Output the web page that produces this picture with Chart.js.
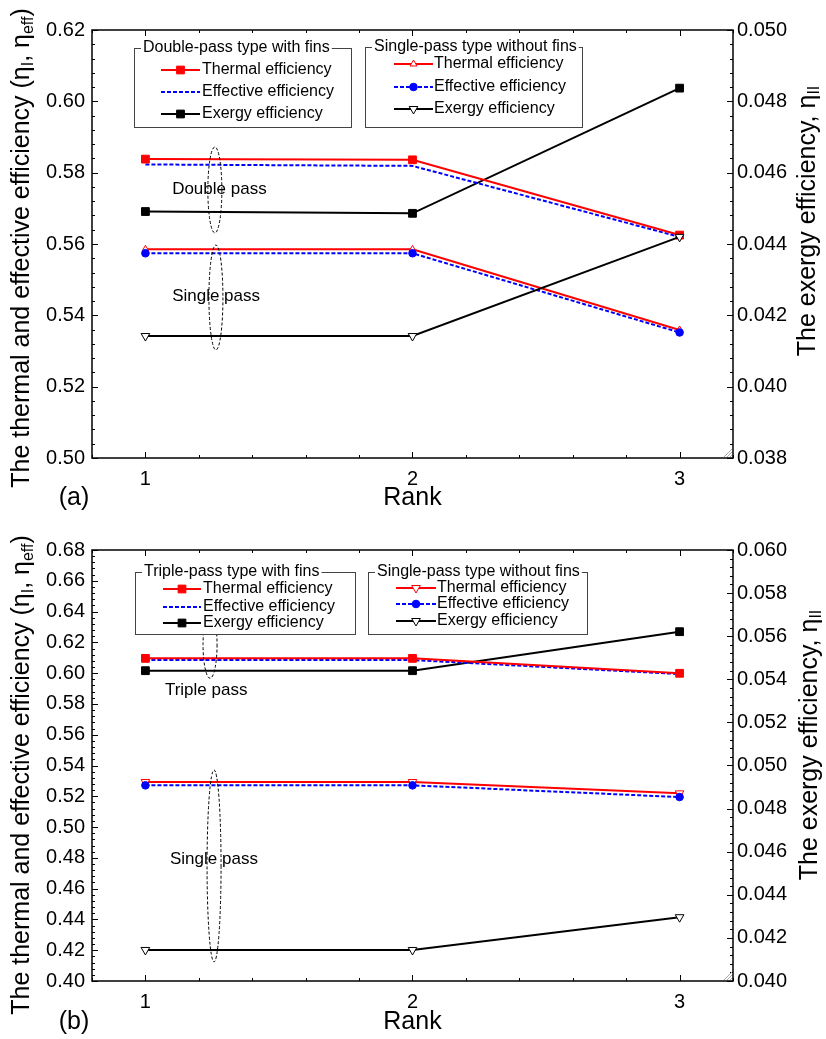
<!DOCTYPE html>
<html lang="en">
<head>
    <meta charset="UTF-8">
    <title>Thermal, effective and exergy efficiency vs rank</title>
    <script src="https://cdn.jsdelivr.net/npm/chart.js"></script>
    <style>
        body { margin: 0; background: #fff; }
        canvas { display: block; }
    </style>
</head>
<body>
    <canvas id="chartA" width="826" height="520"></canvas>
    <canvas id="chartB" width="826" height="519"></canvas>

<script>
const ranks = [1, 2, 3];

// (a) double-pass with fins / single-pass without fins
const doubleThermalA   = [0.5838, 0.5836, 0.5625];
const doubleEffectiveA = [0.5823, 0.5819, 0.5620];
const doubleExergyA    = [0.04491, 0.04486, 0.04837];
const singleThermalA   = [0.5585, 0.5585, 0.5359];
const singleEffectiveA = [0.5574, 0.5574, 0.5352];
const singleExergyA    = [0.04142, 0.04142, 0.04420];

// (b) triple-pass with fins / single-pass without fins
const tripleThermalB   = [0.6096, 0.6096, 0.5999];
const tripleEffectiveB = [0.6085, 0.6085, 0.5994];
const tripleExergyB    = [0.05440, 0.05440, 0.05621];
const singleThermalB   = [0.5293, 0.5293, 0.5219];
const singleEffectiveB = [0.5271, 0.5271, 0.5195];
const singleExergyB    = [0.04144, 0.04144, 0.04296];

const leftTicksA  = [0.50, 0.52, 0.54, 0.56, 0.58, 0.60, 0.62];
const rightTicksA = [0.038, 0.040, 0.042, 0.044, 0.046, 0.048, 0.050];
const leftTicksB  = [0.40, 0.42, 0.44, 0.46, 0.48, 0.50, 0.52, 0.54, 0.56, 0.58, 0.60, 0.62, 0.64, 0.66, 0.68];
const rightTicksB = [0.040, 0.042, 0.044, 0.046, 0.048, 0.050, 0.052, 0.054, 0.056, 0.058, 0.060];

const FONT = "'Liberation Sans', Arial, sans-serif";

// line / marker styles
const thermalSq   = { borderColor: '#ff0000', pointStyle: 'rect', pointRadius: 5.5, pointBackgroundColor: '#ff0000', pointBorderColor: '#ff0000' };
const effPlain    = { borderColor: '#0000ff', borderDash: [4, 2], pointRadius: 0 };
const exergySq    = { borderColor: '#000000', pointStyle: 'rect', pointRadius: 5.5, pointBackgroundColor: '#000000', pointBorderColor: '#000000' };
const thermalUp   = { borderColor: '#ff0000', pointStyle: 'triangle', pointRotation: 0, pointRadius: 4, pointBackgroundColor: '#ffffff', pointBorderColor: '#ff0000' };
const thermalDown = { borderColor: '#ff0000', pointStyle: 'triangle', pointRotation: 180, pointRadius: 5, pointBackgroundColor: '#ffffff', pointBorderColor: '#ff0000' };
const effDot      = { borderColor: '#0000ff', borderDash: [4, 2], pointStyle: 'circle', pointRadius: 3.8, pointBackgroundColor: '#0000ff', pointBorderColor: '#0000ff' };
const exergyDown  = { borderColor: '#000000', pointStyle: 'triangle', pointRotation: 180, pointRadius: 5, pointBackgroundColor: '#ffffff', pointBorderColor: '#000000' };

function series(label, values, axis, style, order) {
    return Object.assign({
        label: label,
        data: ranks.map((r, i) => ({ x: r, y: values[i] })),
        yAxisID: axis,
        borderWidth: 2,
        tension: 0,
        fill: false,
        pointBorderWidth: 1,
        order: order
    }, style);
}

function drawMarker(ctx, ds, x, y) {
    const r = ds.pointRadius;
    if (!r) return;
    ctx.save();
    ctx.setLineDash([]);
    ctx.lineWidth = 1;
    ctx.fillStyle = ds.pointBackgroundColor;
    ctx.strokeStyle = ds.pointBorderColor;
    ctx.beginPath();
    if (ds.pointStyle === 'rect') {
        const s = r * Math.SQRT1_2;
        ctx.rect(x - s, y - s, 2 * s, 2 * s);
    } else if (ds.pointStyle === 'circle') {
        ctx.arc(x, y, r, 0, Math.PI * 2);
    } else {
        let rad = (ds.pointRotation || 0) * Math.PI / 180;
        ctx.moveTo(x + Math.sin(rad) * r, y - Math.cos(rad) * r);
        rad += 2 * Math.PI / 3;
        ctx.lineTo(x + Math.sin(rad) * r, y - Math.cos(rad) * r);
        rad += 2 * Math.PI / 3;
        ctx.lineTo(x + Math.sin(rad) * r, y - Math.cos(rad) * r);
        ctx.closePath();
    }
    ctx.fill();
    ctx.stroke();
    ctx.restore();
}

// text with subscripts, rotated -90 deg, centred on (cx, cy)
function drawVerticalTitle(ctx, parts, cx, cy, size) {
    ctx.save();
    ctx.translate(cx, cy);
    ctx.rotate(-Math.PI / 2);
    ctx.fillStyle = '#000';
    ctx.textBaseline = 'middle';
    ctx.textAlign = 'left';
    let total = 0;
    parts.forEach(p => {
        ctx.font = (p.sub ? Math.round(size * 0.62) : size) + 'px ' + FONT;
        p.w = ctx.measureText(p.t).width;
        total += p.w;
    });
    let x = -total / 2;
    parts.forEach(p => {
        ctx.font = (p.sub ? Math.round(size * 0.62) : size) + 'px ' + FONT;
        ctx.fillText(p.t, x, p.sub ? size * 0.28 : 0);
        x += p.w;
    });
    ctx.restore();
}

const decorPlugin = {
    id: 'decor',
    afterDatasetsDraw(chart, args, opts) {
        const ctx = chart.ctx;
        const a = chart.chartArea;
        const sx = chart.scales.x, sy = chart.scales.y, sy2 = chart.scales.y2;
        ctx.save();

        // frame
        ctx.strokeStyle = '#000';
        ctx.lineWidth = 1.5;
        ctx.strokeRect(a.left, a.top, a.right - a.left, a.bottom - a.top);

        // inward ticks
        ctx.lineWidth = 1;
        ctx.beginPath();
        for (let i = 4; i <= 16; i++) {
            const v = i / 5;
            const px = Math.round(sx.getPixelForValue(v)) + 0.5;
            const len = (i % 5 === 0) ? 6 : 3;
            ctx.moveTo(px, a.bottom); ctx.lineTo(px, a.bottom - len);
            ctx.moveTo(px, a.top); ctx.lineTo(px, a.top + len);
        }
        const lMin = opts.leftTicks[0], lMax = opts.leftTicks[opts.leftTicks.length - 1];
        const nL = Math.round((lMax - lMin) / opts.leftMinor);
        for (let k = 0; k <= nL; k++) {
            const py = Math.round(sy.getPixelForValue(lMin + k * opts.leftMinor)) + 0.5;
            const len = (k % 5 === 0) ? 6 : 3;
            ctx.moveTo(a.left, py); ctx.lineTo(a.left + len, py);
        }
        const rMin = opts.rightTicks[0], rMax = opts.rightTicks[opts.rightTicks.length - 1];
        const nR = Math.round((rMax - rMin) / opts.rightMinor);
        for (let k = 0; k <= nR; k++) {
            const py = Math.round(sy2.getPixelForValue(rMin + k * opts.rightMinor)) + 0.5;
            const len = (k % 5 === 0) ? 6 : 3;
            ctx.moveTo(a.right, py); ctx.lineTo(a.right - len, py);
        }
        ctx.stroke();

        // resize grip in the corner
        ctx.strokeStyle = '#aaa';
        ctx.beginPath();
        for (let g = 0; g < 3; g++) {
            ctx.moveTo(a.right - 3 - g * 3, a.bottom - 1);
            ctx.lineTo(a.right - 1, a.bottom - 3 - g * 3);
        }
        ctx.stroke();

        // dashed ellipses
        ctx.strokeStyle = '#000';
        ctx.setLineDash([3, 2]);
        opts.rings.forEach(r => {
            const cx = sx.getPixelForValue(r.x);
            const y1 = sy.getPixelForValue(r.y1), y2 = sy.getPixelForValue(r.y2);
            ctx.beginPath();
            ctx.ellipse(cx, (y1 + y2) / 2, 7, Math.abs(y2 - y1) / 2, 0, 0, Math.PI * 2);
            ctx.stroke();
        });
        ctx.setLineDash([]);

        // notes
        ctx.fillStyle = '#000';
        ctx.font = '17px ' + FONT;
        ctx.textBaseline = 'middle';
        ctx.textAlign = 'left';
        opts.notes.forEach(n => {
            ctx.fillText(n.text, sx.getPixelForValue(n.x), sy.getPixelForValue(n.y));
        });

        // grouped legends
        opts.legends.forEach(L => {
            const bx = a.left + L.x, by = a.top + L.y;
            ctx.fillStyle = '#fff';
            ctx.fillRect(bx, by, L.w, L.h);
            ctx.strokeStyle = '#444';
            ctx.lineWidth = 1;
            ctx.strokeRect(bx + 0.5, by + 0.5, L.w, L.h);
            ctx.font = '16px ' + FONT;
            const tw = ctx.measureText(L.title).width;
            ctx.fillStyle = '#fff';
            ctx.fillRect(bx + 7, by - 3, tw + 4, 8);
            ctx.fillStyle = '#000';
            ctx.fillText(L.title, bx + 9, by);
            L.items.forEach((di, j) => {
                const ds = chart.data.datasets[di];
                const ry = by + L.rows[j];
                ctx.save();
                ctx.strokeStyle = ds.borderColor;
                ctx.lineWidth = 2;
                ctx.setLineDash(ds.borderDash || []);
                ctx.beginPath();
                ctx.moveTo(bx + L.sx[0], ry);
                ctx.lineTo(bx + L.sx[1], ry);
                ctx.stroke();
                ctx.restore();
                drawMarker(ctx, ds, bx + (L.sx[0] + L.sx[1]) / 2, ry);
                ctx.fillStyle = '#000';
                ctx.fillText(ds.label, bx + L.tx, ry);
            });
        });

        // axis titles
        drawVerticalTitle(ctx, [
            { t: 'The thermal and effective efficiency (η' }, { t: 'I', sub: true },
            { t: ', η' }, { t: 'eff', sub: true }, { t: ')' }
        ], 22, opts.leftTitleY, 25);
        drawVerticalTitle(ctx, [
            { t: 'The exergy efficiency, η' }, { t: 'II', sub: true }
        ], opts.rightTitleX, opts.rightTitleY, 25);

        ctx.font = '25px ' + FONT;
        ctx.textAlign = 'center';
        ctx.fillStyle = '#000';
        ctx.fillText('Rank', sx.getPixelForValue(2), opts.rankY);
        ctx.fillText(opts.tag, 74, opts.rankY);
        ctx.restore();
    }
};

function makeChart(id, datasets, leftTicks, rightTicks, leftFmt, rightFmt, xHeight, decor) {
    return new Chart(document.getElementById(id), {
        type: 'line',
        data: { datasets: datasets },
        plugins: [decorPlugin],
        options: {
            responsive: false,
            animation: false,
            events: [],
            layout: { padding: { top: 30, left: 0, right: 0, bottom: 0 } },
            plugins: {
                legend: { display: false },
                tooltip: { enabled: false },
                decor: decor
            },
            scales: {
                x: {
                    type: 'linear',
                    min: 0.8,
                    max: 3.2,
                    grid: { display: false, drawTicks: false },
                    border: { display: false },
                    afterBuildTicks: s => { s.ticks = ranks.map(v => ({ value: v })); },
                    afterFit: s => { s.height = xHeight; },
                    ticks: { color: '#000', padding: 9, font: { family: FONT, size: 20 }, callback: v => String(v), maxRotation: 0 }
                },
                y: {
                    position: 'left',
                    min: leftTicks[0],
                    max: leftTicks[leftTicks.length - 1],
                    grid: { display: false, drawTicks: false },
                    border: { display: false },
                    afterBuildTicks: s => { s.ticks = leftTicks.map(v => ({ value: v })); },
                    afterFit: s => { s.width = 92; },
                    ticks: { color: '#000', padding: 7, font: { family: FONT, size: 20 }, callback: leftFmt }
                },
                y2: {
                    position: 'right',
                    min: rightTicks[0],
                    max: rightTicks[rightTicks.length - 1],
                    grid: { display: false, drawTicks: false },
                    border: { display: false },
                    afterBuildTicks: s => { s.ticks = rightTicks.map(v => ({ value: v })); },
                    afterFit: s => { s.width = 93; },
                    ticks: { color: '#000', padding: 4, font: { family: FONT, size: 20 }, callback: rightFmt }
                }
            }
        }
    });
}

makeChart('chartA', [
    series('Thermal efficiency',   doubleThermalA,   'y',  thermalSq, 3),
    series('Effective efficiency', doubleEffectiveA, 'y',  effPlain, 4),
    series('Exergy efficiency',    doubleExergyA,    'y2', exergySq, 5),
    series('Thermal efficiency',   singleThermalA,   'y',  thermalUp, 2),
    series('Effective efficiency', singleEffectiveA, 'y',  effDot, 1),
    series('Exergy efficiency',    singleExergyA,    'y2', exergyDown, 0)
], leftTicksA, rightTicksA, v => v.toFixed(2), v => v.toFixed(3), 62, {
    leftTicks: leftTicksA, leftMinor: 0.004, rightTicks: rightTicksA, rightMinor: 0.0004,
    leftTitleY: 248, rightTitleX: 808, rightTitleY: 221, rankY: 498, tag: '(a)',
    legends: [
        { title: 'Double-pass type with fins', x: 42, y: 18, w: 217, h: 79, rows: [22, 44, 66], sx: [27, 66], tx: 68, items: [0, 1, 2] },
        { title: 'Single-pass type without fins', x: 273, y: 17, w: 217, h: 80, rows: [17, 40, 62], sx: [29, 68], tx: 69, items: [3, 4, 5] }
    ],
    notes: [{ text: 'Double pass', x: 1.10, y: 0.5754 }, { text: 'Single pass', x: 1.10, y: 0.5454 }],
    rings: [{ x: 1.26, y1: 0.5872, y2: 0.5631 }, { x: 1.264, y1: 0.5597, y2: 0.5303 }]
});

makeChart('chartB', [
    series('Thermal efficiency',   tripleThermalB,   'y',  thermalSq, 3),
    series('Effective efficiency', tripleEffectiveB, 'y',  effPlain, 4),
    series('Exergy efficiency',    tripleExergyB,    'y2', exergySq, 5),
    series('Thermal efficiency',   singleThermalB,   'y',  thermalDown, 2),
    series('Effective efficiency', singleEffectiveB, 'y',  effDot, 1),
    series('Exergy efficiency',    singleExergyB,    'y2', exergyDown, 0)
], leftTicksB, rightTicksB, v => v.toFixed(2), v => v.toFixed(3), 58, {
    leftTicks: leftTicksB, leftMinor: 0.004, rightTicks: rightTicksB, rightMinor: 0.0004,
    leftTitleY: 255, rightTitleX: 810, rightTitleY: 225, rankY: 502, tag: '(b)',
    legends: [
        { title: 'Triple-pass type with fins', x: 43, y: 22, w: 220, h: 62, rows: [17, 35, 51], sx: [28, 66], tx: 68, items: [0, 1, 2] },
        { title: 'Single-pass type without fins', x: 276, y: 22, w: 219, h: 62, rows: [16, 32, 49], sx: [28, 68], tx: 69, items: [3, 4, 5] }
    ],
    notes: [{ text: 'Triple pass', x: 1.073, y: 0.589 }, { text: 'Single pass', x: 1.092, y: 0.4793 }],
    rings: [{ x: 1.242, y1: 0.6403, y2: 0.5967 }, { x: 1.257, y1: 0.5371, y2: 0.4124 }]
});
</script>
</body>
</html>
